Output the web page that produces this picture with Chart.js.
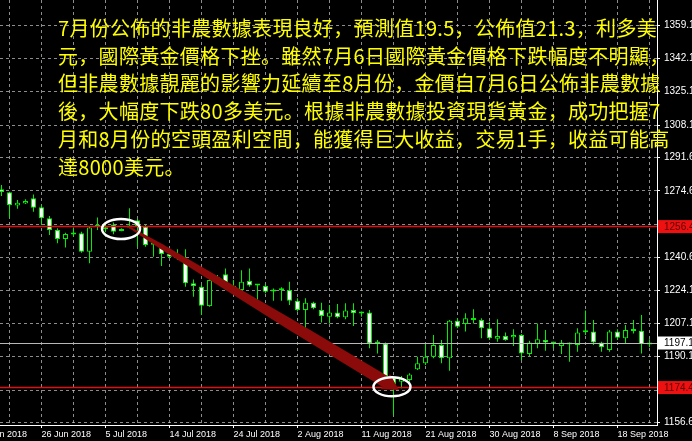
<!DOCTYPE html>
<html>
<head>
<meta charset="utf-8">
<script src="https://cdn.jsdelivr.net/npm/chart.js@4.4.1/dist/chart.umd.min.js"></script>
<style>
  html, body { margin: 0; padding: 0; background: #000; overflow: hidden; }
  #wrap { position: relative; width: 692px; height: 441px; }
  #note {
    position: absolute; left: 58px; top: 14px;
    color: #ffff00; white-space: pre;
    font-family: "Noto Sans CJK SC", "Noto Sans CJK TC", sans-serif;
    font-size: 20px; line-height: 27.7px; letter-spacing: 0.3px;
  }
</style>
</head>
<body>
<div id="wrap">
  <canvas id="chart" width="692" height="441"></canvas>
  <div id="note"></div>
</div>
<script>
// daily bars, index 0 = first visible bar
const opens  = [1275.4,1273.9,1267.2,1268.2,1270.8,1266.2,1260.6,1254.7,1250.1,1252.6,
                1253.0,1243.6,1256.4,1256.0,1257.5,1254.2,1256.4,1259.7,1256.4,1247.4,
                1246.2,1242.4,1240.9,1238.5,1227.5,1225.8,1215.9,1229.8,1232.1,1225.6,
                1224.1,1228.7,1226.6,1226.1,1223.6,1224.1,1224.1,1218.6,1213.9,1217.6,
                1213.9,1210.5,1212.7,1210.2,1213.9,1212.3,1212.6,1197.0,1196.9,1179.5,
                1177.4,1178.3,1183.7,1186.8,1190.1,1196.1,1189.3,1208.5,1206.8,1209.7,
                1208.8,1204.6,1199.3,1200.7,1200.0,1201.2,1191.5,1196.9,1198.6,1197.0,
                1195.6,1196.6,1196.1,1202.8,1202.9,1197.3,1193.5,1202.9,1199.5,1203.4,
                1203.4,1196.4];
const highs  = [1277.6,1274.2,1269.9,1270.3,1272.7,1267.4,1261.8,1255.5,1253.3,1255.9,
                1253.8,1256.4,1261.1,1257.5,1258.5,1255.5,1265.7,1260.3,1257.2,1247.9,
                1247.0,1242.8,1244.8,1244.8,1229.5,1226.6,1230.4,1231.7,1235.1,1229.2,
                1234.2,1235.1,1227.2,1227.1,1224.9,1225.5,1228.3,1219.9,1219.9,1218.1,
                1217.6,1216.5,1217.0,1217.3,1217.3,1213.1,1213.9,1198.6,1197.3,1179.9,
                1180.3,1181.7,1190.1,1196.9,1201.2,1198.6,1208.8,1209.7,1212.2,1214.3,
                1209.7,1207.9,1209.2,1202.4,1204.1,1201.7,1198.3,1207.1,1203.7,1197.8,
                1198.6,1197.3,1204.6,1213.6,1208.8,1197.8,1203.7,1204.1,1206.3,1208.8,
                1211.4,1199.0];
const lows   = [1272.0,1261.1,1265.5,1267.9,1264.0,1257.2,1252.1,1247.9,1245.7,1251.3,
                1243.1,1237.7,1254.7,1253.5,1252.5,1254.0,1255.5,1246.2,1246.2,1241.1,
                1236.3,1240.5,1239.4,1225.8,1220.7,1211.4,1215.6,1228.8,1224.1,1223.8,
                1224.1,1225.8,1218.1,1222.4,1218.6,1218.6,1216.5,1213.1,1204.6,1214.3,
                1207.5,1207.1,1209.7,1209.2,1205.8,1210.5,1194.4,1191.8,1179.1,1160.4,
                1174.0,1177.4,1183.4,1185.9,1189.3,1186.8,1183.0,1204.6,1202.9,1207.1,
                1199.5,1198.6,1197.8,1198.3,1195.6,1188.4,1190.5,1194.4,1193.2,1194.4,
                1191.5,1187.6,1192.7,1201.2,1196.1,1192.7,1192.7,1198.6,1196.9,1202.0,
                1191.8,1194.9];
const closes = [1274.0,1267.4,1268.6,1269.4,1266.0,1260.6,1254.7,1250.1,1252.6,1252.4,
                1243.6,1255.9,1256.2,1255.0,1253.8,1255.2,1256.0,1256.4,1247.0,1247.2,
                1242.4,1241.1,1240.5,1227.5,1226.1,1216.1,1229.2,1229.6,1227.1,1225.3,
                1228.3,1226.4,1226.4,1223.2,1223.4,1224.0,1218.6,1213.9,1217.6,1214.8,
                1210.9,1212.7,1210.2,1213.6,1212.2,1212.1,1196.9,1196.8,1179.9,1176.0,
                1179.1,1181.1,1186.8,1190.1,1196.1,1189.3,1208.5,1205.4,1209.7,1208.8,
                1204.6,1199.5,1200.7,1198.6,1201.2,1191.8,1197.3,1199.0,1197.4,1196.8,
                1197.3,1196.4,1202.4,1202.6,1197.4,1194.9,1202.9,1199.8,1203.7,1203.2,
                1196.6,1197.1];

// axis ticks
const xTickBars   = [-3, 5, 13, 21, 29, 37, 45, 53, 61, 69, 77];
const xTickLabels = ['17 Jun 2018','26 Jun 2018','5 Jul 2018','14 Jul 2018','24 Jul 2018','2 Aug 2018',
                     '11 Aug 2018','21 Aug 2018','30 Aug 2018','8 Sep 2018','18 Sep 2018'];
const yTickValues = [1359.1,1342.1,1325.1,1308.1,1291.6,1274.6,1257.6,1240.6,1224.1,1207.1,1190.1,1173.1,1156.6];
const yTickLabels = ['1359.1','1342.1','1325.1','1308.1','1291.6','1274.6','','1240.6','1224.1','1207.1','1190.1','','1156.6'];

// drawn objects (bar index / price)
const levelValues = [1256.4, 1174.4];
const bidPrice = 1197.1;
const arrowFrom = [15.94, 1256.2];
const arrowTo   = [49.69, 1173.2];
const circleCenters = [[14.94, 1255.2], [48.81, 1174.8]];

const noteLines = [
  '7月份公佈的非農數據表現良好，預測值19.5，公佈值21.3，利多美',
  '元，國際黃金價格下挫。雖然7月6日國際黃金價格下跌幅度不明顯，',
  '但非農數據靚麗的影響力延續至8月份，金價自7月6日公佈非農數據',
  '後，大幅度下跌80多美元。根據非農數據投資現貨黃金，成功把握7',
  '月和8月份的空頭盈利空間，能獲得巨大收益，交易1手，收益可能高',
  '達8000美元。'
];
document.getElementById('note').textContent = noteLines.join('\n');

const GREEN = '#00ee00';
const bodies = opens.map((o, i) => ({x: i, y: [o, closes[i]]}));
const wicks = lows.map((l, i) => ({x: i, y: [l, highs[i]]}));

function drawArrow(ctx, x0, y0, x1, y1) {
  const dx = x1 - x0, dy = y1 - y0, len = Math.hypot(dx, dy);
  const nx = -dy / len, ny = dx / len;
  const baseT = 1 - 16 / len;
  const shaft = [[0, 0.8], [0.12, 2.6], [0.6, 5.4], [baseT, 6]];
  const pts = [];
  shaft.forEach(([t, w]) => pts.push([x0 + dx * t + nx * w, y0 + dy * t + ny * w]));
  const bx = x0 + dx * baseT, by = y0 + dy * baseT;
  pts.push([bx + nx * 9, by + ny * 9]);
  pts.push([x1, y1]);
  pts.push([bx - nx * 9, by - ny * 9]);
  shaft.slice().reverse().forEach(([t, w]) => pts.push([x0 + dx * t - nx * w, y0 + dy * t - ny * w]));
  ctx.beginPath();
  pts.forEach((p, i) => i ? ctx.lineTo(p[0], p[1]) : ctx.moveTo(p[0], p[1]));
  ctx.closePath();
  ctx.fillStyle = '#8b0a0a';
  ctx.fill();
}

function priceBox(ctx, y, text, bg, fg) {
  ctx.fillStyle = bg;
  ctx.fillRect(658, y - 6.5, 34, 13);
  ctx.fillStyle = fg;
  ctx.font = '10px "Liberation Sans"';
  ctx.textBaseline = 'middle';
  ctx.textAlign = 'left';
  ctx.fillText(text, 664, y + 0.5);
}

const overlay = {
  id: 'overlay',
  afterDatasetsDraw(chart) {
    const {ctx, chartArea: a, scales: {x, y}} = chart;
    ctx.save();
    // bid line
    let py = Math.round(y.getPixelForValue(bidPrice)) + 0.5;
    ctx.strokeStyle = '#b8b8b8';
    ctx.lineWidth = 1;
    ctx.beginPath(); ctx.moveTo(a.left, py); ctx.lineTo(a.right, py); ctx.stroke();
    // horizontal levels
    ctx.strokeStyle = '#e01010';
    ctx.lineWidth = 1.5;
    levelValues.forEach(v => {
      const ly = y.getPixelForValue(v);
      ctx.beginPath(); ctx.moveTo(a.left, ly); ctx.lineTo(a.right, ly); ctx.stroke();
    });
    // arrow
    drawArrow(ctx, x.getPixelForValue(arrowFrom[0]), y.getPixelForValue(arrowFrom[1]),
                   x.getPixelForValue(arrowTo[0]), y.getPixelForValue(arrowTo[1]));
    // ellipses
    ctx.strokeStyle = '#ffffff';
    ctx.lineWidth = 2.5;
    [[19, 10], [18.5, 9.5]].forEach((r, i) => {
      const c = circleCenters[i];
      ctx.beginPath();
      ctx.ellipse(x.getPixelForValue(c[0]), y.getPixelForValue(c[1]), r[0], r[1], 0, 0, Math.PI * 2);
      ctx.stroke();
    });
    ctx.restore();
  },
  afterDraw(chart) {
    const {ctx, scales: {y}} = chart;
    ctx.save();
    levelValues.forEach(v => priceBox(ctx, y.getPixelForValue(v), v.toFixed(1), '#ee1111', '#5a0000'));
    priceBox(ctx, y.getPixelForValue(bidPrice), bidPrice.toFixed(1), '#ffffff', '#000000');
    ctx.restore();
  }
};

const gridDash = [3, 3];
function noPad(s) { s.paddingLeft = 0; s.paddingRight = 0; s.paddingTop = 0; s.paddingBottom = 0; }

new Chart(document.getElementById('chart'), {
  type: 'bar',
  data: {
    datasets: [{
      data: bodies,
      backgroundColor: bodies.map(b => b.y[1] < b.y[0] ? '#ffffff' : '#000000'),
      borderColor: GREEN,
      borderWidth: 1,
      borderSkipped: false,
      barThickness: 5,
      minBarLength: 2,
      inflateAmount: 0,
      grouped: false
    }, {
      data: wicks,
      backgroundColor: GREEN,
      borderWidth: 0,
      barThickness: 1,
      inflateAmount: 0,
      grouped: false
    }]
  },
  options: {
    responsive: false,
    animation: false,
    devicePixelRatio: 1,
    layout: { padding: 0, autoPadding: false },
    plugins: { legend: { display: false }, tooltip: { enabled: false } },
    scales: {
      x: {
        type: 'linear',
        offset: false,
        min: -0.1875,
        max: 81.9375,
        afterBuildTicks: s => {
          const t = [];
          for (let k = -3; k <= 81; k += 4) t.push({value: k});
          s.ticks = t;
        },
        afterFit: s => { s.height = 16; noPad(s); },
        grid: {
          offset: false,
          color: 'rgba(200,200,200,0.7)',
          lineWidth: 1,
          tickLength: 3,
          tickColor: c => xTickBars.includes(c.tick && c.tick.value) ? '#ffffff' : 'rgba(0,0,0,0)'
        },
        border: { display: true, color: '#ffffff', width: 1, dash: gridDash },
        ticks: {
          autoSkip: false,
          maxRotation: 0,
          align: 'start',
          padding: 1,
          color: '#ffffff',
          font: { family: 'Liberation Sans', size: 9 },
          callback: v => {
            const i = xTickBars.indexOf(v);
            return i >= 0 ? xTickLabels[i] : '';
          }
        }
      },
      y: {
        type: 'linear',
        position: 'right',
        min: 1155.33,
        max: 1371.84,
        afterBuildTicks: s => { s.ticks = yTickValues.map(v => ({value: v})); },
        afterFit: s => { s.width = 35; noPad(s); },
        grid: {
          color: 'rgba(200,200,200,0.7)',
          lineWidth: 1,
          tickLength: 3,
          tickColor: '#ffffff'
        },
        border: { display: true, color: '#ffffff', width: 1, dash: gridDash },
        ticks: {
          padding: 4,
          color: '#ffffff',
          font: { family: 'Liberation Sans', size: 10 },
          callback: (v, i) => yTickLabels[i]
        }
      }
    }
  },
  plugins: [overlay]
});
</script>
</body>
</html>
